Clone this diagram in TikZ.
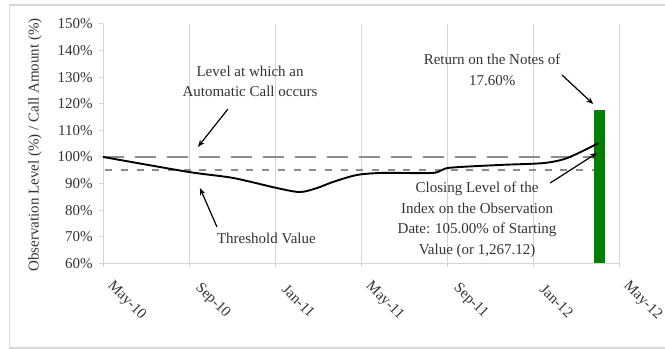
\documentclass[tikz,border=0pt]{standalone}
\usepackage{fontspec}
\setmainfont{Liberation Serif}
\usetikzlibrary{arrows.meta}

\definecolor{framegray}{HTML}{D9D9D9}
\definecolor{gridgray}{HTML}{D4D4D4}
\definecolor{refgray}{HTML}{8C8C8C}
\definecolor{bargreen}{HTML}{008000}
\definecolor{labelgray}{HTML}{333333}

\tikzset{
    callline/.style={refgray, line width=1.8pt, dash pattern=on 21pt off 11pt},
    threshline/.style={refgray, line width=1.6pt, dash pattern=on 7pt off 8.7pt},
    noteline/.style={black, line width=1.2pt, -{Stealth[length=7pt,width=5.5pt]}},
}

\begin{document}
\begin{tikzpicture}[x=21.5pt, y=2.66pt, font=\fontsize{15}{20.5}\selectfont, text=labelgray]
    \useasboundingbox (-4.79,27.8) rectangle (26.14,159.0);
    % outer frame
    \draw[framegray, line width=1.2pt] (26.14,157.1) -- (-4.33,157.1) -- (-4.33,28.2) -- (26.14,28.2);
    % grid and axes
    \foreach \m in {0,4,...,24}
        \draw[gridgray, line width=0.9pt] (\m,58.5) -- (\m,150);
    \draw[gridgray, line width=0.9pt] (0,60) -- (24,60);
    \foreach \p in {60,70,...,150}
        \draw[gridgray, line width=0.9pt] (-0.2,\p) -- (0,\p);
    \begin{scope}[every node/.style={anchor=east, inner sep=0pt}]
        \foreach \p in {60,70,...,150}
            \node (y\p) at (-0.47,\p) {\p\%};
    \end{scope}
    \begin{scope}[every node/.style={rotate=-45, inner sep=0pt}]
        \foreach \m/\t in {0/May-10, 4/Sep-10, 8/Jan-11, 12/May-11, 16/Sep-11, 20/Jan-12, 24/May-12}
            \node (x\m) at (\m+1.1,45.9) {\t};
    \end{scope}
    \node[rotate=90] (ytitle) at (-3.16,104.5) {Observation Level (\%) / Call Amount (\%)};
    % reference levels
    \draw[callline] (0,100) -- (23,100);
    \draw[threshline] (0.1,95) -- (23,95);
    % return bar
    \fill[bargreen] (22.86,60) rectangle (23.33,117.6);
    % index level
    \draw[black, line width=1.9pt] plot[smooth, tension=0.45] coordinates {
        (0,100) (3.95,94.4) (6.05,92.1) (8.09,88.3) (9.16,86.8) (9.95,88.3)
        (10.7,90.6) (11.8,93.2) (13.0,94.0) (15.35,94.0) (16.1,95.9)
        (18.5,97.0) (20.5,97.7) (21.6,99.6) (23.05,105.2)};
    % notes
    \begin{scope}[every node/.style={align=center, inner sep=1pt}]
        \node (level) at (6.84,128.4) {Level at which an\\Automatic Call occurs};
        \node (thresh) at (7.6,69.2) {Threshold Value};
        \node (return) at (18.1,132.7) {Return on the Notes of\\17.60\%};
        \node (closing) at (17.4,76.3) {Closing Level of the\\Index on the Observation\\Date: 105.00\% of Starting\\Value (or 1,267.12)};
    \end{scope}
    \coordinate (levelTail) at (5.81,118.0);
    \coordinate (levelTip) at (4.42,103.8);
    \coordinate (threshTail) at (5.3,73.7);
    \coordinate (threshTip) at (4.51,88.3);
    \coordinate (returnTail) at (21.35,130.8);
    \coordinate (returnTip) at (22.8,119.9);
    \coordinate (closingTail) at (20.8,90.2);
    \coordinate (closingTip) at (22.98,101.5);
    \begin{scope}[every edge/.style={draw, noteline}]
        \draw (levelTail) edge (levelTip);
        \draw (threshTail) edge (threshTip);
        \draw (returnTail) edge (returnTip);
        \draw (closingTail) edge (closingTip);
    \end{scope}
\end{tikzpicture}
\end{document}
